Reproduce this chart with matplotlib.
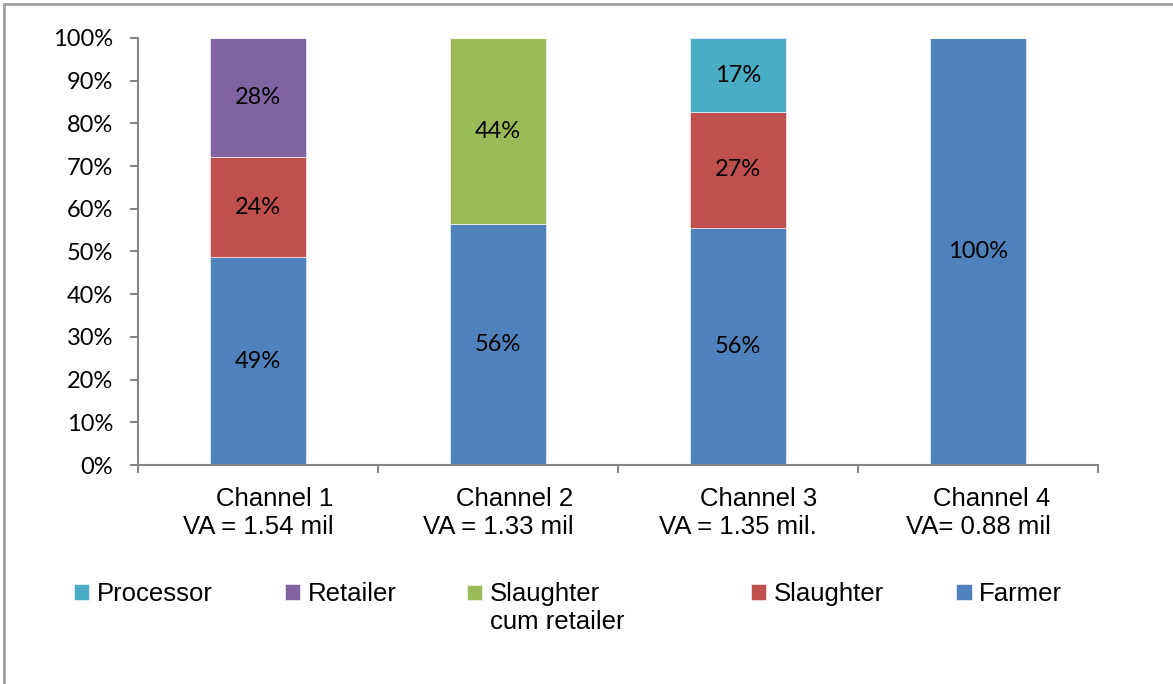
import matplotlib
matplotlib.use("Agg")
import matplotlib.pyplot as plt
import matplotlib.patches as mpatches
from matplotlib.legend_handler import HandlerPatch
import numpy as np

# dados do grafico
canais = ["Channel 1\nVA = 1.54 mil", "Channel 2\nVA = 1.33 mil",
          "Channel 3\nVA = 1.35 mil.", "Channel 4\nVA= 0.88 mil"]
farmer = [48.6, 56.4, 55.6, 100.0]
slaughter = [23.6, 0.0, 27.0, 0.0]
slaughter_cum = [0.0, 43.6, 0.0, 0.0]
retailer = [27.8, 0.0, 0.0, 0.0]
processor = [0.0, 0.0, 17.4, 0.0]
yticks = [0, 10, 20, 30, 40, 50, 60, 70, 80, 90, 100]

series = [
    ("Farmer", farmer, "#4F81BD"),
    ("Slaughter", slaughter, "#C0504D"),
    ("Slaughter\ncum retailer", slaughter_cum, "#9BBB59"),
    ("Retailer", retailer, "#8064A2"),
    ("Processor", processor, "#4BACC6"),
]

W, H = 1173, 684
fig = plt.figure(figsize=(W / 100, H / 100), dpi=100)
ax = fig.add_axes([138 / W, 1 - 465 / H, (1098 - 138) / W, (465 - 38) / H])

x = np.arange(len(canais))
base = np.zeros(len(canais))
handles = {}
for nome, vals, cor in series:
    vals = np.array(vals)
    bars = ax.bar(x, vals, width=0.4, bottom=base, color=cor,
                  edgecolor="white", linewidth=0.4, label=nome)
    handles[nome] = bars.patches[0]
    for i, v in enumerate(vals):
        if v > 0:
            ax.text(x[i], base[i] + v / 2, "%d%%" % round(v), ha="center",
                    va="center", fontsize=17, family="Lato", color="black")
    base = base + vals

ax.set_xlim(-0.5, len(canais) - 0.5)
ax.set_ylim(0, 100)
ax.set_yticks(yticks)
ax.set_yticklabels(["%d%%" % v for v in yticks], family="Lato", fontsize=17)
ax.set_xticks(x)
ax.set_xticklabels(canais, family="Liberation Sans", fontsize=18.5,
                   multialignment="right", linespacing=1.26)
ax.set_xticks(np.arange(len(canais) + 1) - 0.5, minor=True)
ax.tick_params(axis="x", which="major", length=0, pad=15.5)
ax.tick_params(axis="x", which="minor", length=6, width=1.5, color="#868686")
ax.tick_params(axis="y", length=6, width=1.5, color="#868686", pad=12)

for lado in ["top", "right"]:
    ax.spines[lado].set_visible(False)
for lado in ["left", "bottom"]:
    ax.spines[lado].set_color("#868686")
    ax.spines[lado].set_linewidth(1.5)

# legenda em tres grupos, como no original
opts = dict(loc="upper left", frameon=False,
            prop={"family": "Liberation Sans", "size": 18.5},
            handlelength=0.6, handleheight=0.56, handletextpad=0.3,
            columnspacing=2.8, borderpad=0, borderaxespad=0)
topo = 1 - 582 / H


# quadradinho alinhado com a primeira linha do rotulo de duas linhas
def quadrado_alto(legend, orig_handle, xdescent, ydescent, width, height, fontsize):
    return mpatches.Rectangle((-xdescent, -ydescent + 0.62 * fontsize), width, height)


grupos = [
    (["Processor", "Retailer"], 74),
    (["Slaughter\ncum retailer"], 467),
    (["Slaughter", "Farmer"], 751),
]
for nomes, x0 in grupos:
    hm = None
    if len(nomes) == 1:
        hm = {handles[nomes[0]]: HandlerPatch(patch_func=quadrado_alto)}
    leg = fig.legend([handles[n] for n in nomes], nomes, ncol=len(nomes),
                     bbox_to_anchor=(x0 / W, topo), handler_map=hm, **opts)

# moldura da figura
borda = mpatches.Rectangle((4 / W, -0.1), 1.2, 1.1 - 4 / H, transform=fig.transFigure,
                           fill=False, edgecolor="#a0a0a0", linewidth=2, clip_on=False)
fig.patches.append(borda)

fig.savefig("out.png", dpi=100)
